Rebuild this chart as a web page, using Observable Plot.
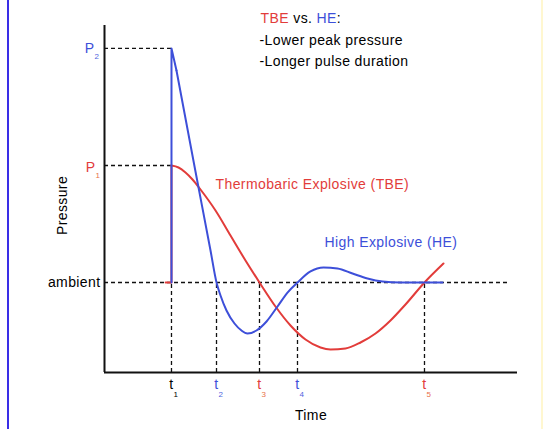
<!DOCTYPE html>
<html><head><meta charset="utf-8">
<script src="https://cdn.jsdelivr.net/npm/d3@7"></script>
<script src="https://cdn.jsdelivr.net/npm/@observablehq/plot@0.6"></script>
<style>
html,body{margin:0;padding:0;background:#fff;}
#wrap{position:relative;width:552px;height:429px;overflow:hidden;background:#fff;}
#wrap .lb{position:absolute;left:7px;top:0;width:2px;height:429px;background:#3a2ee6;}
#wrap .rb{position:absolute;left:541px;top:0;width:2px;height:429px;background:#fff7d0;}
#wrap svg{font-family:"Liberation Sans",Arial,sans-serif;display:block;}
#wrap svg text{letter-spacing:0.4px;}
</style></head><body><div id="wrap"><div class="lb"></div><div class="rb"></div></div>
<script>
// Schematic levels (arbitrary pressure units, axis 0-100)
const ambient = 25.94, P1 = 59.65, P2 = 93.4;
const ambientEnd = 98.3;

// Characteristic times (arbitrary time units, axis 0-100)
const timeMarks = ["1","2","3","4","5"];
const timeValues = [16.22, 27.12, 37.53, 46.73, 77.48];
const timeSeries = ["both","HE","TBE","HE","TBE"];

// Thermobaric explosive (TBE)
const tbeJumpT = [14.8, 16.22, 16.22];
const tbeJumpP = [25.94, 25.94, 59.65];
const tbeT = [16.22,17.92,19.61,21.31,23.24,26.88,30.51,34.14,37.53,41.40,45.04,48.67,52.30,54.72,58.35,61.99,65.62,69.25,72.88,77.48,82.08];
const tbeP = [59.65,59.08,57.64,55.62,52.74,46.69,39.48,32.28,25.94,19.02,13.54,9.51,7.20,6.63,6.92,8.65,11.24,14.99,19.60,25.94,31.41];

// High explosive (HE)
const heJumpT = [16.22, 16.22, 17.43];
const heJumpP = [25.94, 93.4, 87.03];
const heT = [17.43,22.03,25.67,27.12,28.09,29.54,31.48,33.17,34.62,36.80,39.23,41.89,44.31,46.73,49.88,53.03,56.42,60.05,63.68,67.31,71.67,81.84];
const heP = [87.03,57.93,35.16,25.94,22.19,17.87,14.12,12.10,11.24,12.10,14.70,19.02,23.05,25.94,29.11,30.26,29.97,28.53,27.09,26.22,25.94,25.94];

const RED = "#e23c3a", BLUE = "#3d4fd9", INK = "#000";
const seriesColor = {both: INK, HE: BLUE, TBE: RED};
const subColor = {both: INK, HE: "#4f63e0", TBE: "#e8704a"};

const toRows = (T, P) => T.map((t, i) => ({t, p: P[i]}));
const dash = {stroke: "#111", strokeWidth: 1.3, strokeDasharray: "4,3"};
const FS = 14;

const chart = Plot.plot({
  width: 552, height: 429,
  marginLeft: 104, marginRight: 35, marginTop: 25, marginBottom: 57,
  x: {domain: [0, 100], axis: null},
  y: {domain: [0, 100], axis: null},
  color: {type: "identity"},
  style: {background: "transparent", fontFamily: "Liberation Sans, Arial, sans-serif"},
  marks: [
    Plot.ruleY([ambient], {x1: 0, x2: ambientEnd, ...dash}),
    Plot.ruleY([P1, P2], {x1: 0, x2: timeValues[0], ...dash}),
    Plot.ruleX(timeValues, {y1: 0, y2: ambient, ...dash}),
    Plot.ruleX([0], {y1: 0, y2: 100, stroke: "#111", strokeWidth: 2}),
    Plot.ruleY([0], {x1: 0, x2: 100, stroke: "#111", strokeWidth: 2}),
    Plot.line(toRows(tbeJumpT, tbeJumpP), {x: "t", y: "p", stroke: RED, strokeWidth: 2}),
    Plot.line(toRows(tbeT, tbeP), {x: "t", y: "p", curve: "monotone-x", stroke: RED, strokeWidth: 2}),
    Plot.line(toRows(heJumpT, heJumpP), {x: "t", y: "p", stroke: BLUE, strokeWidth: 2}),
    Plot.line(toRows(heT, heP), {x: "t", y: "p", curve: "monotone-x", stroke: BLUE, strokeWidth: 2}),
    // time tick labels t with subscripts
    Plot.text(timeValues, {x: d => d, y: 0, text: () => "t", dy: 16, lineAnchor: "bottom", fontSize: FS,
      fill: (d, i) => seriesColor[timeSeries[i]]}),
    Plot.text(timeValues, {x: d => d, y: 0, text: (d, i) => timeMarks[i], dx: 4.5, dy: 24, lineAnchor: "bottom", fontSize: 8,
      fill: (d, i) => subColor[timeSeries[i]]}),
    // pressure level labels
    Plot.text([P2], {x: 0, y: d => d, text: () => "P", dx: -15, dy: 5, lineAnchor: "bottom", fontSize: FS, fill: BLUE}),
    Plot.text([P2], {x: 0, y: d => d, text: () => "2", dx: -7.5, dy: 11, lineAnchor: "bottom", fontSize: 8, fill: "#4f63e0"}),
    Plot.text([P1], {x: 0, y: d => d, text: () => "P", dx: -14, dy: 6, lineAnchor: "bottom", fontSize: FS, fill: RED}),
    Plot.text([P1], {x: 0, y: d => d, text: () => "1", dx: -6.5, dy: 12, lineAnchor: "bottom", fontSize: 8, fill: "#e8704a"}),
    Plot.text([ambient], {x: 0, y: d => d, text: () => "ambient", dx: -4, textAnchor: "end", fontSize: FS, fill: INK}),
    // axis titles
    Plot.text(["Pressure"], {frameAnchor: "left", dx: -42, dy: 6.5, rotate: -90, textAnchor: "middle", fontSize: FS, fill: INK}),
    Plot.text(["Time"], {frameAnchor: "bottom", dy: 47, lineAnchor: "bottom", fontSize: FS, fill: INK}),
    // series labels
    Plot.text(["Thermobaric Explosive (TBE)"], {frameAnchor: "top-left", dx: 111, dy: 163, textAnchor: "start", lineAnchor: "bottom", fontSize: FS, fill: RED}),
    Plot.text(["High Explosive (HE)"], {frameAnchor: "top-left", dx: 220, dy: 221, textAnchor: "start", lineAnchor: "bottom", fontSize: FS, fill: BLUE}),
    // note
    Plot.text(["TBE vs. HE:"], {frameAnchor: "top-left", dx: 156, dy: -3, textAnchor: "start", lineAnchor: "bottom", fontSize: FS, fill: INK}),
    Plot.text(["-Lower peak pressure"], {frameAnchor: "top-left", dx: 155, dy: 19.5, textAnchor: "start", lineAnchor: "bottom", fontSize: FS, fill: INK}),
    Plot.text(["-Longer pulse duration"], {frameAnchor: "top-left", dx: 155, dy: 40.5, textAnchor: "start", lineAnchor: "bottom", fontSize: FS, fill: INK})
  ]
});

document.getElementById("wrap").appendChild(chart);

// colour the words of the note title
d3.select(chart).selectAll("text").each(function() {
  const t = d3.select(this);
  if (this.textContent === "TBE vs. HE:") {
    const node = t.select("tspan").empty() ? t : t.select("tspan");
    node.text(null);
    node.append("tspan").attr("fill", RED).text("TBE");
    node.append("tspan").attr("fill", INK).text(" vs. ");
    node.append("tspan").attr("fill", BLUE).text("HE");
    node.append("tspan").attr("fill", INK).text(":");
  }
});
</script>
</body></html>
